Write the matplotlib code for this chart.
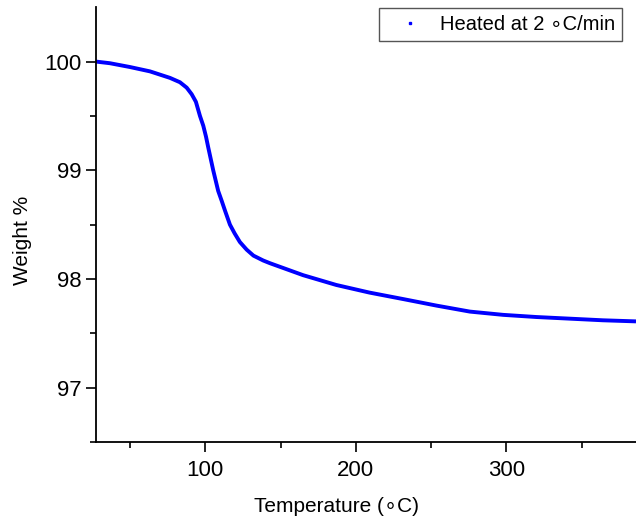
import numpy as np
import matplotlib.pyplot as plt
from matplotlib.lines import Line2D

plt.rcParams['font.family'] = ['Liberation Sans', 'DejaVu Sans']

# TGA curve
temperature = [27.5, 36.7, 50, 63.3, 76.6, 83.2, 87.7, 91, 93.8, 96.5, 98.7,
               100.5, 102, 105.3, 108.6, 110.9, 113.1, 116.4, 119.5, 123, 127.5,
               132, 138.5, 143, 150, 165, 187, 209, 231.5, 253.6, 275.7, 297.8,
               320, 342, 364, 386]
weight = [100.0, 99.985, 99.95, 99.91, 99.85, 99.81, 99.76, 99.70, 99.63, 99.50,
          99.41, 99.31, 99.21, 99.0, 98.81, 98.72, 98.63, 98.5, 98.42, 98.34,
          98.27, 98.215, 98.17, 98.145, 98.11, 98.035, 97.945, 97.875, 97.815,
          97.755, 97.70, 97.67, 97.65, 97.635, 97.62, 97.61]
x_ticks = [100, 200, 300]
y_ticks = [97, 98, 99, 100]
legend_label = 'Heated at 2 \u2218C/min'

fig = plt.figure(figsize=(6.36, 5.17), dpi=100)
ax = fig.add_axes([0.151, 0.145, 0.849, 0.841])

ax.plot(temperature, weight, color='#0000ff', linewidth=2.8,
        solid_joinstyle='round', solid_capstyle='butt')

ax.set_xlim(27.5, 386)
ax.set_ylim(96.5, 100.5)
ax.set_xticks(x_ticks)
ax.set_yticks(y_ticks)
ax.set_xticks([50, 150, 250, 350], minor=True)
ax.set_yticks([96.5, 97.5, 98.5, 99.5], minor=True)

for side in ['top', 'right']:
    ax.spines[side].set_visible(False)
for side in ['left', 'bottom']:
    ax.spines[side].set_linewidth(1.3)

ax.tick_params(which='major', direction='out', length=7, width=1.2, labelsize=16)
ax.tick_params(which='minor', direction='out', length=4, width=1.2)
ax.tick_params(axis='x', which='major', pad=6)
ax.tick_params(axis='y', which='major', pad=3.5)

ax.set_xlabel('Temperature (\u2218C)', fontsize=15)
ax.set_ylabel('Weight %', fontsize=15)
ax.xaxis.set_label_coords(0.446, -0.126)
ax.yaxis.set_label_coords(-0.119, 0.464)

handle = Line2D([], [], color='#0000ff', marker='s', markersize=2, linestyle='none')
leg = ax.legend([handle], [legend_label], loc='upper right',
                bbox_to_anchor=(622 / 636, 1 - 8 / 517), bbox_transform=fig.transFigure,
                fontsize=14.5, fancybox=False, framealpha=1, edgecolor='#555555',
                handlelength=2.4, handletextpad=0.28, borderpad=0.35,
                borderaxespad=0)
leg.get_frame().set_linewidth(1.0)

fig.savefig('out.png', dpi=100)
